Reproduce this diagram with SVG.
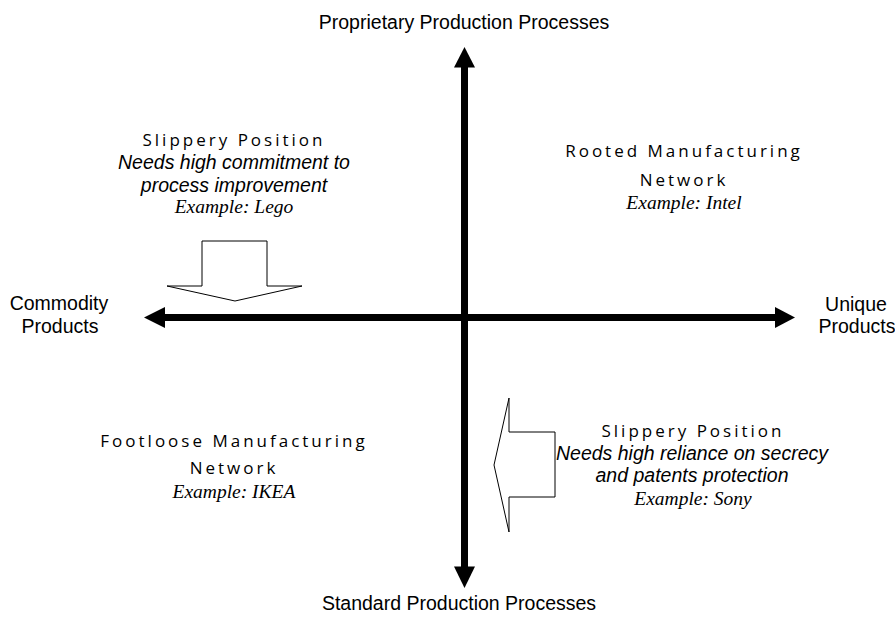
<svg xmlns="http://www.w3.org/2000/svg" width="895" height="620" viewBox="0 0 895 620">
  <style>
    .axis { font-family: "Liberation Sans", Arial, sans-serif; font-size: 19.5px; fill: #000; text-anchor: middle; }
    .head { font-family: "Open Sans", "DejaVu Sans", sans-serif; font-size: 17px; letter-spacing: 3px; fill: #000; text-anchor: middle; }
    .note { font-family: "Liberation Sans", Arial, sans-serif; font-style: italic; font-size: 19.5px; fill: #000; text-anchor: middle; }
    .ex { font-family: "Liberation Serif", "Times New Roman", serif; font-style: italic; font-size: 19.5px; fill: #000; text-anchor: middle; }
    .shaft { stroke: #000; stroke-width: 7; fill: none; }
    .tip { fill: #000; stroke: none; }
    .hollow { fill: #fff; stroke: #000; stroke-width: 1; stroke-linejoin: miter; }
  </style>

  <rect width="895" height="620" fill="#fff"/>

  <!-- axes -->
  <g id="connectors">
    <line class="shaft" x1="163" y1="317.5" x2="777" y2="317.5"/>
    <polygon class="tip" points="144,317.5 165,307 165,328"/>
    <polygon class="tip" points="795,317.5 775,307 775,328"/>
    <line class="shaft" x1="464.5" y1="66" x2="464.5" y2="568"/>
    <polygon class="tip" points="464.5,47 454,67.5 475,67.5"/>
    <polygon class="tip" points="464.5,588 454,566.5 475,566.5"/>
  </g>

  <!-- axis labels -->
  <g id="label-proprietary">
    <text class="axis" x="464" y="29">Proprietary Production Processes</text>
  </g>
  <g id="label-standard">
    <text class="axis" x="459" y="610">Standard Production Processes</text>
  </g>
  <g id="label-commodity">
    <text class="axis" x="59" y="310">Commodity</text>
    <text class="axis" x="60" y="333">Products</text>
  </g>
  <g id="label-unique">
    <text class="axis" x="856" y="311">Unique</text>
    <text class="axis" x="857" y="333">Products</text>
  </g>

  <!-- upper left quadrant -->
  <g id="slippery-lego">
    <text class="head" x="234" y="146">Slippery Position</text>
    <text class="note" x="234" y="169">Needs high commitment to</text>
    <text class="note" x="234" y="192">process improvement</text>
    <text class="ex" x="234" y="213">Example: Lego</text>
    <polygon class="hollow" points="202,241 267,241 267,286 302,286 235,301 167,286 202,286"/>
  </g>

  <!-- upper right quadrant -->
  <g id="rooted-network">
    <text class="head" x="684" y="157">Rooted Manufacturing</text>
    <text class="head" x="684" y="186">Network</text>
    <text class="ex" x="684" y="209">Example: Intel</text>
  </g>

  <!-- lower left quadrant -->
  <g id="footloose-network">
    <text class="head" x="234" y="447">Footloose Manufacturing</text>
    <text class="head" x="234" y="474">Network</text>
    <text class="ex" x="234" y="498">Example: IKEA</text>
  </g>

  <!-- lower right quadrant -->
  <g id="slippery-sony">
    <polygon class="hollow" points="555,432 509,432 509,398 494,465 509,532 509,497 555,497"/>
    <text class="head" x="693" y="437">Slippery Position</text>
    <text class="note" x="692" y="460">Needs high reliance on secrecy</text>
    <text class="note" x="692" y="482">and patents protection</text>
    <text class="ex" x="693" y="505">Example: Sony</text>
  </g>
</svg>
